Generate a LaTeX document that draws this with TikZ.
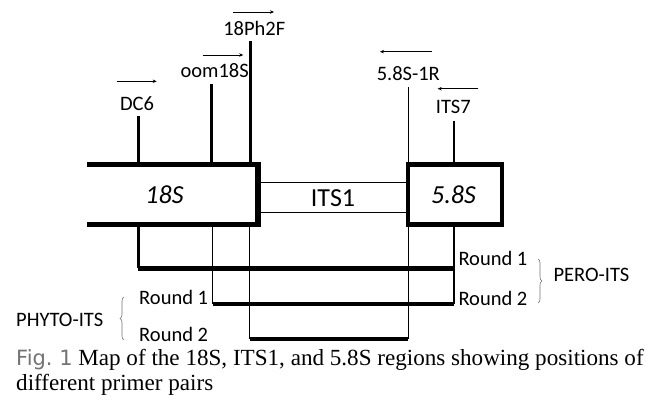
\documentclass[tikz,border=0pt]{standalone}
\usepackage{fontspec}
\setmainfont{Liberation Serif}
\newfontfamily\lblfont{Carlito}
\newfontfamily\figfont{DejaVu Sans}
\usetikzlibrary{positioning,calc,arrows.meta,decorations.pathreplacing}

\begin{document}
\begin{tikzpicture}[
    x=1pt, y=-1pt,
    font=\lblfont\fontsize{20.5}{24}\selectfont,
    box/.style={inner sep=0pt, outer sep=0pt, minimum height=60pt},
    regiontext/.style={inner sep=0pt, font=\lblfont\itshape\fontsize{26}{30}\selectfont},
    primer/.style={inner sep=0pt, anchor=base},
    stem/.style={line width=2.7pt},
    drop/.style={line width=1.2pt},
    product/.style={line width=4.6pt},
    dir/.style={line width=0.9pt, -{Stealth[length=4pt,width=3.5pt]}},
    bracket/.style={black!55, line width=0.6pt, decorate, decoration={brace, amplitude=4pt}},
    round/.style={inner sep=0pt},
    caption/.style={inner sep=0pt, anchor=base west, font=\rmfamily\fontsize{23.1}{26}\selectfont}
]
\useasboundingbox (0,0) rectangle (646,405);

% rRNA regions
\node[box, minimum width=171pt] (s18) at (172.5,194.5) {};
\node[box, draw, line width=1.3pt, minimum width=150pt, minimum height=30pt] (its1) at (333,197.7) {};
\node[box, draw, line width=4.7pt, minimum width=94pt] (s58) at (455,194.5) {};
\draw[line width=5.5pt] (s18.north west) -- (s18.north east) -- (s18.south east) -- (s18.south west);
\node[regiontext] (l18) at ($(s18.center)+(-8,0)$) {18S};
\node[regiontext, font=\lblfont\fontsize{26}{30}\selectfont] (lits) at (its1.center) {ITS1};
\node[regiontext] (l58) at ($(s58.center)+(-1.5,0)$) {5.8S};

% primers
\coordinate (t-dc6) at (138.3,116);
\coordinate (t-oom) at (211.5,84.3);
\coordinate (t-ph2f) at (250.3,41);
\coordinate (t-r58) at (408.3,87.3);
\coordinate (t-its7) at (454,120.7);

\node[primer] (dc6) at (137,110) {DC6};
\node[primer] (oom) at (214.7,77) {oom18S};
\node[primer] (ph2f) at (254.3,35.7) {18Ph2F};
\node[primer] (r58) at (408.3,80) {5.8S-1R};
\node[primer] (its7) at (453.3,113.3) {ITS7};

\draw[dir] ($(dc6.base)+(-20.3,-28.7)$) -- ++(40,0);
\draw[dir] ($(oom.base)+(-12,-22)$) -- ++(40.6,0);
\draw[dir] ($(ph2f.base)+(-21,-23.7)$) -- ++(40.7,0);
\draw[dir] ($(r58.base)+(23.4,-28.3)$) -- ++(-51.7,0);
\draw[dir] ($(its7.base)+(25,-24.6)$) -- ++(-40.6,0);

\draw[stem] (t-dc6) -- (t-dc6 |- s18.north);
\draw[stem] (t-oom) -- (t-oom |- s18.north);
\draw[stem] (t-ph2f) -- (t-ph2f |- s18.north);
\draw[line width=1.6pt] (t-r58) -- (t-r58 |- s58.north);
\draw[stem] (t-its7) -- (t-its7 |- s58.north);

% PCR products
\coordinate (r1l) at (138.3,268.3);
\coordinate (r1r) at (454,268.3);
\coordinate (r2l) at (212.5,304);
\coordinate (r2r) at (454,304);
\coordinate (r3l) at (249.5,339);
\coordinate (r3r) at (408.3,339);

\draw[stem] (t-dc6 |- s18.south) -- (r1l);
\draw[drop] (t-oom |- s18.south) ++(1,0) -- (r2l);
\draw[drop] (t-ph2f |- s18.south) ++(-0.8,0) -- (r3l);
\draw[drop] (t-r58 |- s58.south) -- (r3r);
\draw[drop] (t-its7 |- s58.south) -- (r2r);
\draw[product] (r1l) -- (r1r);
\draw[product] (r2l) -- (r2r);
\draw[product] (r3l) -- (r3r);

% rounds
\node[round, anchor=base west] (pero1) at (458.3,265) {Round 1};
\node[round, anchor=base west] (pero2) at (458.3,305) {Round 2};
\node[round, anchor=base west] (pero) at (553.3,281.7) {PERO-ITS};
\node[round, anchor=base east] (phyto1) at (208.3,304) {Round 1};
\node[round, anchor=base east] (phyto2) at (208.3,341.7) {Round 2};
\node[round, anchor=base west] (phyto) at (16,326.7) {PHYTO-ITS};
\draw[bracket] (538,259) -- (538,303);
\draw[bracket] (124,340) -- (124,297);

% caption
\node[caption] (cap1) at (16,365) {{\figfont\fontsize{21}{24}\selectfont\color{black!55}Fig.~1} Map of the 18S, ITS1, and 5.8S regions showing positions of};
\node[caption] (cap2) at (16,390.7) {different primer pairs};
\end{tikzpicture}
\end{document}
